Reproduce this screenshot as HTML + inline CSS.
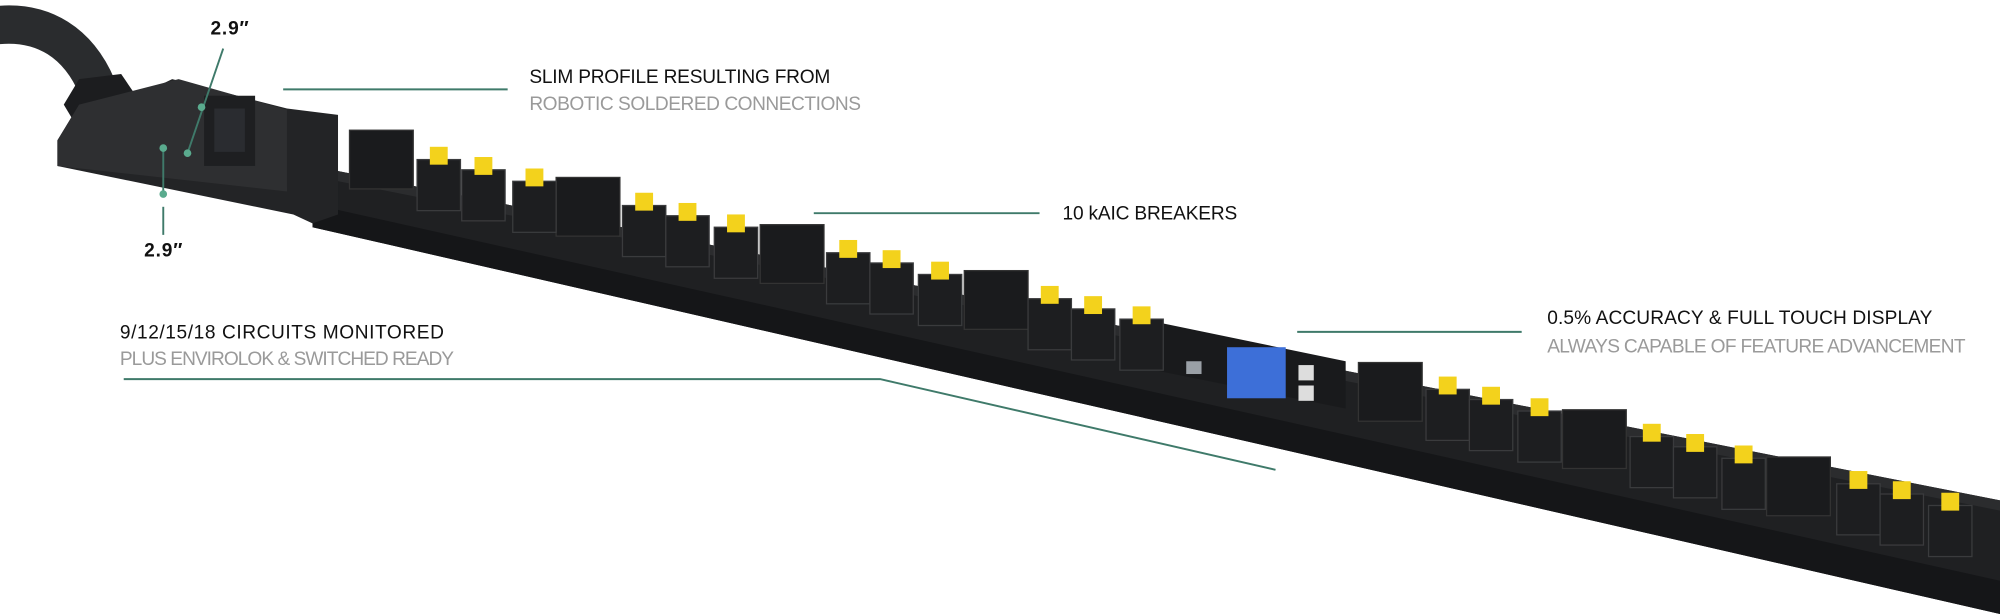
<!DOCTYPE html>
<html><head><meta charset="utf-8"><style>html,body{margin:0;padding:0;background:#fff}svg{display:block}</style></head><body>
<svg width="2000" height="614" viewBox="0 0 1568 481" preserveAspectRatio="none" xmlns="http://www.w3.org/2000/svg" font-family="Liberation Sans, sans-serif">
<rect width="1568" height="481" fill="#fff"/>
<!-- cable -->
<path d="M-5,20 C35,15 62,35 76,68" stroke="#2a2c2e" stroke-width="30" fill="none"/>
<polygon points="50,82 62,62 95,58 110,80 102,108 68,112" fill="#1c1d1f"/>
<!-- main bar -->
<polygon points="245,130 1568,392 1568,481 245,178" fill="#1f2022"/>
<polygon points="245,160 1568,455 1568,481 245,178" fill="#151618"/>
<polygon points="245,130 1568,392 1568,400 245,138" fill="#2b2c2e"/>
<!-- header -->
<polygon points="45,110 62,82 108,75 135,62 225,85 265,90 265,168 245,175 230,168 45,130" fill="#232426"/>
<polygon points="45,110 62,82 140,62 225,86 225,150 45,130" fill="#2e2f31"/>
<rect x="160" y="75" width="40" height="55" fill="#1e1f21"/>
<rect x="168" y="85" width="24" height="34" fill="#2a2c30"/>
<!-- display panel -->
<polygon points="905,252 1055,283 1055,320 905,290" fill="#191a1c"/>
<rect x="930" y="283" width="12" height="10" fill="#9aa0a6"/>
<rect x="962" y="272" width="46" height="40" fill="#3d6fd8"/>
<rect x="1018" y="286" width="12" height="12" fill="#ddd"/>
<rect x="1018" y="302" width="12" height="12" fill="#ddd"/>
<g fill="#1a1b1d" stroke="#333" stroke-width="1">
<rect x="274" y="102" width="50" height="46"/>
<rect x="436" y="139" width="50" height="46"/>
<rect x="596" y="176" width="50" height="46"/>
<rect x="756" y="212" width="50" height="46"/>
<rect x="1065" y="284" width="50" height="46"/>
<rect x="1225" y="321" width="50" height="46"/>
<rect x="1385" y="358" width="50" height="46"/>
</g>
<g fill="#1d1e20" stroke="#3a3b3d" stroke-width="1">
<rect x="327" y="125" width="34" height="40"/><rect x="362" y="133" width="34" height="40"/><rect x="402" y="142" width="34" height="40"/>
<rect x="488" y="161" width="34" height="40"/><rect x="522" y="169" width="34" height="40"/><rect x="560" y="178" width="34" height="40"/>
<rect x="648" y="198" width="34" height="40"/><rect x="682" y="206" width="34" height="40"/><rect x="720" y="215" width="34" height="40"/>
<rect x="806" y="234" width="34" height="40"/><rect x="840" y="242" width="34" height="40"/><rect x="878" y="250" width="34" height="40"/>
<rect x="1118" y="305" width="34" height="40"/><rect x="1152" y="313" width="34" height="40"/><rect x="1190" y="322" width="34" height="40"/>
<rect x="1278" y="342" width="34" height="40"/><rect x="1312" y="350" width="34" height="40"/><rect x="1350" y="359" width="34" height="40"/>
<rect x="1440" y="379" width="34" height="40"/><rect x="1474" y="387" width="34" height="40"/><rect x="1512" y="396" width="34" height="40"/>
</g>
<g fill="#f3d21c">
<rect x="337" y="115" width="14" height="14"/><rect x="372" y="123" width="14" height="14"/><rect x="412" y="132" width="14" height="14"/>
<rect x="498" y="151" width="14" height="14"/><rect x="532" y="159" width="14" height="14"/><rect x="570" y="168" width="14" height="14"/>
<rect x="658" y="188" width="14" height="14"/><rect x="692" y="196" width="14" height="14"/><rect x="730" y="205" width="14" height="14"/>
<rect x="816" y="224" width="14" height="14"/><rect x="850" y="232" width="14" height="14"/><rect x="888" y="240" width="14" height="14"/>
<rect x="1128" y="295" width="14" height="14"/><rect x="1162" y="303" width="14" height="14"/><rect x="1200" y="312" width="14" height="14"/>
<rect x="1288" y="332" width="14" height="14"/><rect x="1322" y="340" width="14" height="14"/><rect x="1360" y="349" width="14" height="14"/>
<rect x="1450" y="369" width="14" height="14"/><rect x="1484" y="377" width="14" height="14"/><rect x="1522" y="386" width="14" height="14"/>
</g>
<g stroke="#3f7a6a" stroke-width="1.5" fill="none">
<line x1="175" y1="38" x2="147" y2="120"/>
<line x1="128" y1="116" x2="128" y2="150"/>
<line x1="128" y1="162" x2="128" y2="184"/>
<line x1="222" y1="70" x2="398" y2="70"/>
<line x1="638" y1="167" x2="815" y2="167"/>
<line x1="1017" y1="260" x2="1193" y2="260"/>
<polyline points="97,297 690,297 1000,368"/>
</g>
<g fill="#5aab8e"><circle cx="158" cy="84" r="3"/><circle cx="147" cy="120" r="3"/><circle cx="128" cy="116" r="3"/><circle cx="128" cy="152" r="3"/></g>
<g font-size="15" fill="#111">
<text x="165" y="27" font-weight="bold" textLength="30">2.9″</text>
<text x="113" y="201" font-weight="bold" textLength="30">2.9″</text>
<text x="415" y="65" textLength="236">SLIM PROFILE RESULTING FROM</text>
<text x="833" y="172" textLength="137">10 kAIC BREAKERS</text>
<text x="1213" y="254" textLength="302">0.5% ACCURACY &amp; FULL TOUCH DISPLAY</text>
<text x="94" y="265" textLength="254">9/12/15/18 CIRCUITS MONITORED</text>
</g>
<g font-size="15" fill="#9a9a9a">
<text x="415" y="86" textLength="260">ROBOTIC SOLDERED CONNECTIONS</text>
<text x="1213" y="276" textLength="328">ALWAYS CAPABLE OF FEATURE ADVANCEMENT</text>
<text x="94" y="286" textLength="262">PLUS ENVIROLOK &amp; SWITCHED READY</text>
</g>
</svg>
</body></html>
